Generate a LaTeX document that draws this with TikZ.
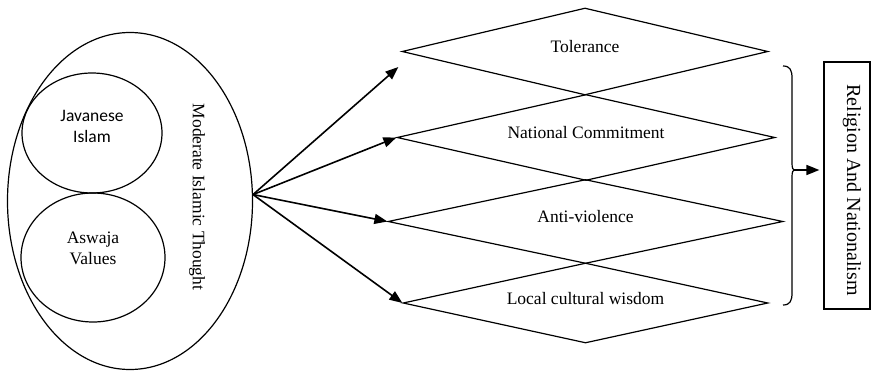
\documentclass[tikz,border=0pt]{standalone}
\usepackage{fontspec}
\setmainfont{Liberation Serif}
\newfontfamily\calfont{Carlito}
\usetikzlibrary{arrows.meta,positioning,shapes.geometric}
\tikzset{
  >={Triangle[length=13pt,width=10pt]},
  blob/.style={ellipse,draw,line width=1.2pt,inner sep=0pt},
  rhomb/.style={diamond,draw,line width=1.2pt,inner sep=0pt},
  lbl/.style={font=\fontsize{17.5}{21}\selectfont,align=center,inner sep=0pt},
  sanslbl/.style={font=\calfont\fontsize{17.5}{21}\selectfont,align=center,inner sep=0pt},
  link/.style={->,line width=1.6pt},
}
\begin{document}
\begin{tikzpicture}[x=1pt,y=-1pt]
\useasboundingbox (0,0) rectangle (871,372);

% left cluster
\node[blob,minimum width=245pt,minimum height=337pt] (mit) at (130,201) {};
\node[blob,minimum width=140pt,minimum height=120pt] (jav) at (92,133) {};
\node[blob,minimum width=144pt,minimum height=129pt] (asw) at (93,257.5) {};
\node[sanslbl] (javlbl) at ([yshift=7pt]jav.center) {Javanese\\Islam};
\node[lbl] (aswlbl) at ([yshift=9pt]asw.center) {Aswaja\\Values};
\node[lbl,rotate=-90] (mitlbl) at (197,197) {Moderate Islamic Thought};

% the four values
\node[rhomb,minimum width=366pt,minimum height=87pt] (tol) at (585,51.5) {};
\node[rhomb,minimum width=378pt,minimum height=86pt] (nat) at (586,137.5) {};
\node[rhomb,minimum width=395pt,minimum height=84pt] (anti) at (585.5,221.5) {};
\node[rhomb,minimum width=365pt,minimum height=80pt] (loc) at (585.5,303) {};
\foreach \d/\t in {tol/Tolerance,nat/National Commitment,anti/Anti-violence,loc/Local cultural wisdom}
  \node[lbl] (\d lbl) at ([yshift=4.5pt]\d.center) {\t};

\draw[link] (mit.3) -- ([xshift=-3pt,yshift=-15.5pt]tol.west);
\foreach \d in {nat,anti,loc}
  \draw[link] (mit.3) -- (\d.west);

% result
\coordinate (btop) at (783,66);
\coordinate (bbot) at (783,305);
\coordinate (btip) at (794,170);
\draw[line width=1.2pt] (btop) .. controls (790,66) and (792,70) .. (792,78) -- (792,163)
  .. controls (792,168) and (793,170) .. (btip)
  .. controls (793,170) and (792,172) .. (792,177) -- (792,293)
  .. controls (792,301) and (790,305) .. (bbot);
\node[draw,line width=1.2pt,minimum width=46pt,minimum height=247pt,inner sep=0pt] (rn) at (847,185.5) {};
\node[font=\fontsize{20}{24}\selectfont,rotate=-90,inner sep=0pt] (rnlbl) at (852,190) {Religion And Nationalism};
\draw[link,shorten >=4pt] (btip) -- (btip -| rn.west);

\end{tikzpicture}
\end{document}
